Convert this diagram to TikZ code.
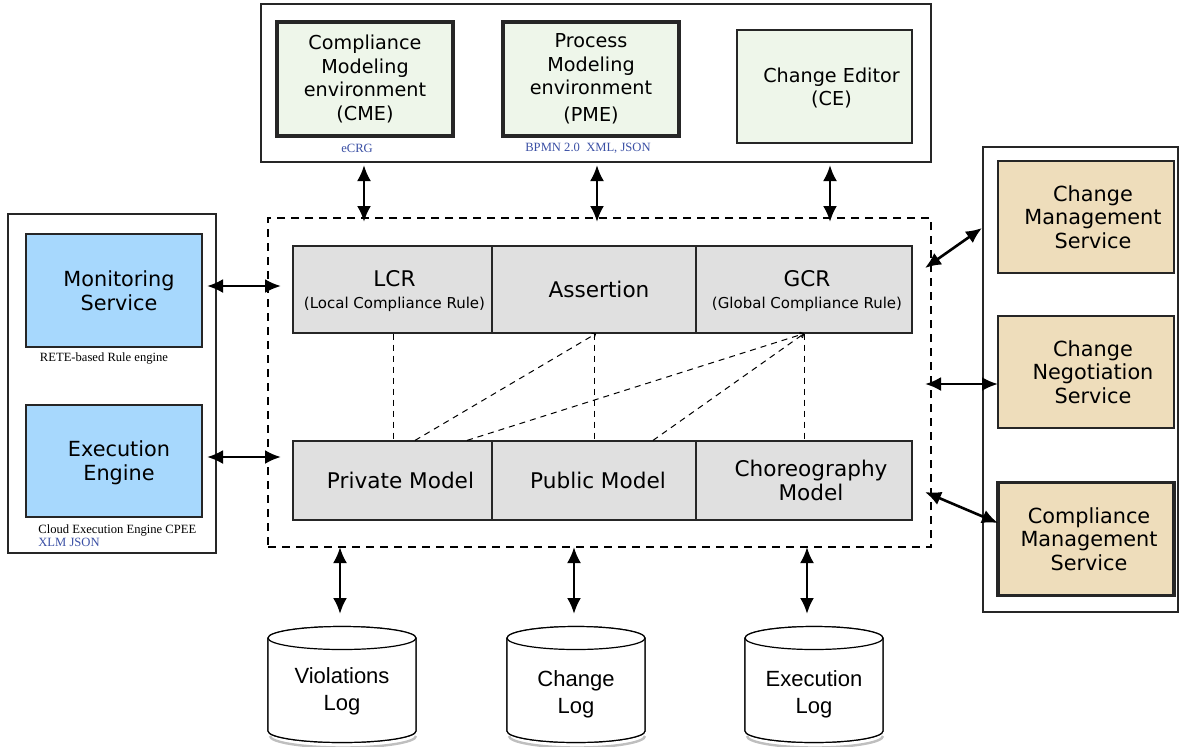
\documentclass[tikz,border=0pt]{standalone}
\usepackage{fontspec}
\setmainfont{Liberation Serif}
\newfontfamily\dvs{DejaVu Sans}
\newfontfamily\lbs{Liberation Sans}
\usetikzlibrary{arrows.meta}
\definecolor{gfill}{HTML}{EEF6EA}
\definecolor{bfill}{HTML}{A7D8FD}
\definecolor{tfill}{HTML}{EEDDBB}
\definecolor{cfill}{HTML}{E0E0E0}
\definecolor{anblue}{HTML}{3B50A5}
\tikzset{
  frame/.style={draw=black!85, line width=0.6pt, fill=white, inner sep=0pt},
  sbox/.style={draw=black!85, line width=0.6pt, inner sep=0pt, align=center, font=\dvs\fontsize{10.4}{11.8}\selectfont},
  thickbox/.style={sbox, line width=1.8pt},
  topbox/.style={font=\dvs\fontsize{9.6}{11.7}\selectfont},
  cell/.style={draw=black!85, line width=0.6pt, fill=cfill, inner sep=0pt, align=center, font=\dvs\fontsize{10.8}{12.2}\selectfont},
  dashbox/.style={draw=black, line width=0.8pt, dash pattern=on 4pt off 3pt, inner sep=0pt},
  rel/.style={draw=black, line width=0.5pt, dash pattern=on 3pt off 2.5pt},
  relarr/.style={rel, -{To[length=2pt,width=3pt]}},
  dbl/.style={line width=1.3pt, {Latex[length=8pt,width=7pt]}-{Latex[length=8pt,width=7pt]}},
  note/.style={font=\fontsize{6.3}{7}\selectfont, inner sep=0pt},
  cyltext/.style={font=\lbs\fontsize{11}{13.3}\selectfont, align=center, inner sep=0pt},
  cyl/.style={draw=black, line width=0.6pt, fill=white}
}
\newcommand{\smalltext}[1]{{\fontsize{7.5}{8.5}\selectfont #1}}
\newcommand{\shifted}[2]{\hspace*{#1}\raisebox{-1.5pt}[\height][\depth]{\begin{tabular}{@{}c@{}}#2\end{tabular}}}
\begin{document}
\begin{tikzpicture}[x=0.5pt,y=-0.5pt]
\useasboundingbox (0,0) rectangle (1179,746);

% ---------- top frame ----------
\node[frame, minimum width=335pt, minimum height=79pt] (topframe) at (596,83) {};
\node[thickbox, topbox, fill=gfill, minimum width=88pt, minimum height=57pt] (cme) at (365,79)
  {Compliance\\Modeling\\environment\\(CME)};
\node[thickbox, topbox, fill=gfill, minimum width=88pt, minimum height=57pt] (pme) at (591,79)
  {Process\\Modeling\\environment\\[2pt](PME)};
\node[sbox, topbox, fill=gfill, minimum width=87.5pt, minimum height=56.5pt] (ce) at (824.5,86.5)
  {\shifted{7pt}{Change Editor\\(CE)}};
\node[note, text=anblue] (ecrg) at (357,148) {eCRG};
\node[note, text=anblue] (bpmn) at (588,148) {BPMN 2.0\ \ XML, JSON};

% ---------- left frame ----------
\node[frame, minimum width=104pt, minimum height=169.5pt] (leftframe) at (112,383.5) {};
\node[sbox, fill=bfill, minimum width=88pt, minimum height=56.5pt] (mon) at (114,290.5)
  {\shifted{5pt}{Monitoring\\Service}};
\node[sbox, fill=bfill, minimum width=88pt, minimum height=56pt] (exe) at (114,461)
  {\shifted{5pt}{Execution\\Engine}};
\node[note, anchor=base] (rete) at (104,361) {RETE-based Rule engine};
\node[note, anchor=base west] (cpee) at (38,533) {Cloud Execution Engine CPEE};
\node[note, anchor=base west, text=anblue] (xlm) at (38,546) {XLM JSON};

% ---------- right frame ----------
\node[frame, minimum width=97.5pt, minimum height=232.5pt] (rightframe) at (1080.5,379.5) {};
\node[sbox, fill=tfill, minimum width=88pt, minimum height=56pt] (cms) at (1086,217)
  {\shifted{7pt}{Change\\Management\\Service}};
\node[sbox, fill=tfill, minimum width=88pt, minimum height=56pt] (cns) at (1086,372)
  {\shifted{7pt}{Change\\Negotiation\\Service}};
\node[thickbox, fill=tfill, minimum width=88pt, minimum height=56.5pt] (cpms) at (1086,539)
  {\shifted{3pt}{Compliance\\Management\\Service}};

% ---------- central dashed box ----------
\node[dashbox, minimum width=331.5pt, minimum height=164.5pt] (core) at (599.5,382.5) {};
\node[cell, minimum width=99.5pt, minimum height=43.5pt] (lcr) at (392.5,289.5)
  {\shifted{2pt}{LCR\\[-1.5pt]\smalltext{(Local Compliance Rule)}}};
\node[cell, minimum width=102pt, minimum height=43.5pt] (assert) at (594,289.5) {\shifted{5pt}{Assertion}};
\node[cell, minimum width=108pt, minimum height=43.5pt] (gcr) at (804,289.5)
  {\shifted{3pt}{GCR\\[-1.5pt]\smalltext{(Global Compliance Rule)}}};
\node[cell, minimum width=99.5pt, minimum height=39.5pt] (priv) at (392.5,480.5) {\shifted{8pt}{Private Model}};
\node[cell, minimum width=102pt, minimum height=39.5pt] (pub) at (594,480.5) {\shifted{4pt}{Public Model}};
\node[cell, minimum width=108pt, minimum height=39.5pt] (chor) at (804,480.5) {\shifted{7pt}{Choreography\\Model}};

% dashed relations
\draw[rel] (lcr.south -| 393,0) -- (priv.north -| 393,0);
\draw[rel] (assert.south) -- (pub.north);
\draw[rel] (gcr.south) -- (chor.north);
\draw[relarr] (priv.north -| 415,0) -- (assert.south -| 596,0);
\draw[relarr] (priv.north -| 467,0) -- (gcr.south);
\draw[relarr] (pub.north -| 653,0) -- (gcr.south);

% ---------- cylinders ----------
% Violations
\path[cyl] (268,638) -- (268,731) arc[start angle=180,end angle=360,x radius=37pt,y radius=5.75pt] -- (416,638) arc[start angle=0,end angle=180,x radius=37pt,y radius=5.75pt] -- cycle;
\draw[black!25, line width=1.2pt] (270,736) arc[start angle=180,end angle=360,x radius=36.5pt,y radius=5.75pt];
\draw[cyl] (268,638) -- (268,731) arc[start angle=180,end angle=360,x radius=37pt,y radius=5.75pt] -- (416,638);
\draw[cyl] (342,638) ellipse[x radius=37pt,y radius=5.75pt];
\node[cyltext] (vlog) at (342,691) {Violations\\Log};
% Change
\path[cyl] (507,638) -- (507,731) arc[start angle=180,end angle=360,x radius=34.5pt,y radius=5.75pt] -- (645,638) arc[start angle=0,end angle=180,x radius=34.5pt,y radius=5.75pt] -- cycle;
\draw[black!25, line width=1.2pt] (509,736) arc[start angle=180,end angle=360,x radius=34pt,y radius=5.75pt];
\draw[cyl] (507,638) -- (507,731) arc[start angle=180,end angle=360,x radius=34.5pt,y radius=5.75pt] -- (645,638);
\draw[cyl] (576,638) ellipse[x radius=34.5pt,y radius=5.75pt];
\node[cyltext] (clog) at (576,694) {Change\\Log};
% Execution
\path[cyl] (745,638) -- (745,731) arc[start angle=180,end angle=360,x radius=34.5pt,y radius=5.75pt] -- (883,638) arc[start angle=0,end angle=180,x radius=34.5pt,y radius=5.75pt] -- cycle;
\draw[black!25, line width=1.2pt] (747,736) arc[start angle=180,end angle=360,x radius=34pt,y radius=5.75pt];
\draw[cyl] (745,638) -- (745,731) arc[start angle=180,end angle=360,x radius=34.5pt,y radius=5.75pt] -- (883,638);
\draw[cyl] (814,638) ellipse[x radius=34.5pt,y radius=5.75pt];
\node[cyltext] (elog) at (814,694) {Execution\\Log};

% ---------- arrow end points ----------
\coordinate (ta1) at (364,165); \coordinate (tb1) at (364,222);
\coordinate (ta2) at (597,165); \coordinate (tb2) at (597,222);
\coordinate (ta3) at (830,165); \coordinate (tb3) at (830,222);
\coordinate (la1) at (207,286); \coordinate (lb1) at (281,286);
\coordinate (la2) at (207,457); \coordinate (lb2) at (281,457);
\coordinate (ra1) at (925,268); \coordinate (rb1) at (982,228);
\coordinate (ra2) at (925,384); \coordinate (rb2) at (998,384);
\coordinate (ra3) at (925,492); \coordinate (rb3) at (998,523);
\coordinate (ba1) at (340,547); \coordinate (bb1) at (340,614);
\coordinate (ba2) at (574,547); \coordinate (bb2) at (574,614);
\coordinate (ba3) at (807,547); \coordinate (bb3) at (807,614);

\draw[dbl] (ta1) -- (tb1);
\draw[dbl] (ta2) -- (tb2);
\draw[dbl] (ta3) -- (tb3);
\draw[dbl] (la1) -- (lb1);
\draw[dbl] (la2) -- (lb2);
\draw[dbl] (ra1) -- (rb1);
\draw[dbl] (ra2) -- (rb2);
\draw[dbl] (ra3) -- (rb3);
\draw[dbl] (ba1) -- (bb1);
\draw[dbl] (ba2) -- (bb2);
\draw[dbl] (ba3) -- (bb3);
\end{tikzpicture}
\end{document}
